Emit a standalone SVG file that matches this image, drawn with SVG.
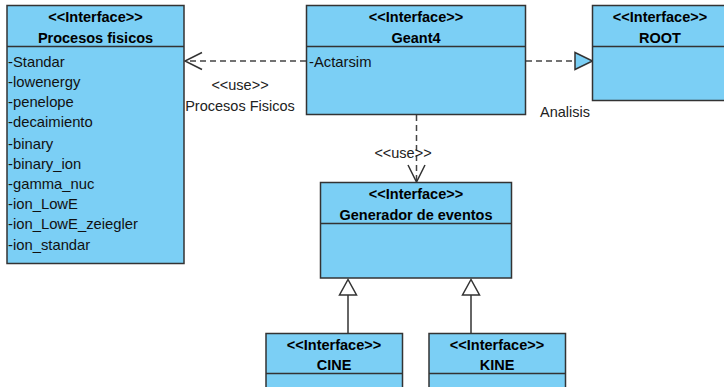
<svg xmlns="http://www.w3.org/2000/svg" width="724" height="387" viewBox="0 0 724 387">
<style>
.box{fill:#7BCFF5;stroke:#333;stroke-width:1.5}
.div{stroke:#333;stroke-width:1.5}
.st{font-family:"Liberation Sans",Arial,sans-serif;font-weight:bold;font-size:14.5px;text-anchor:middle;fill:#000}
.at{font-family:"Liberation Sans",Arial,sans-serif;font-size:14.8px;fill:#111}
.lb{font-family:"Liberation Sans",Arial,sans-serif;font-size:14.5px;fill:#222;text-anchor:middle}
.dash{fill:none;stroke:#444;stroke-width:1.5;stroke-dasharray:6 4}
.solid{fill:none;stroke:#333;stroke-width:1.5}
</style>
<rect width="724" height="387" fill="#fff"/>
<g id="connectors">
<line class="dash" x1="306" y1="61" x2="186" y2="61"/>
<polyline class="solid" points="202,52.5 185,61 202,69.5"/>
<text class="lb" x="240" y="90">&lt;&lt;use&gt;&gt;</text>
<text class="lb" x="240" y="111">Procesos Fisicos</text>
<line class="dash" x1="526" y1="61" x2="575" y2="61"/>
<polygon points="575,52.5 592.5,61 575,69.5" fill="#7BCFF5" stroke="#333" stroke-width="1.5"/>
<text class="lb" x="565" y="117">Analisis</text>
<line class="dash" x1="416.5" y1="115" x2="416.5" y2="181"/>
<polyline class="solid" points="408,165 416.5,182 425,165"/>
<text class="lb" x="403" y="158">&lt;&lt;use&gt;&gt;</text>
<line class="solid" x1="348" y1="295" x2="348" y2="333"/>
<polygon points="348,279.5 339.5,295 356.5,295" fill="#fff" stroke="#333" stroke-width="1.5"/>
<line class="solid" x1="471" y1="295" x2="471" y2="333"/>
<polygon points="471,279.5 462.5,295 479.5,295" fill="#fff" stroke="#333" stroke-width="1.5"/>
</g>
<g id="procesos">
<rect class="box" x="7" y="5.5" width="177" height="258"/>
<line class="div" x1="7" y1="46.5" x2="184" y2="46.5"/>
<text class="st" x="95.5" y="22">&lt;&lt;Interface&gt;&gt;</text>
<text class="st" x="95.5" y="43">Procesos fisicos</text>
<text class="at" x="8" y="66.5">-Standar</text>
<text class="at" x="8" y="86.7">-lowenergy</text>
<text class="at" x="8" y="106.9">-penelope</text>
<text class="at" x="8" y="127.1">-decaimiento</text>
<text class="at" x="8" y="148.5">-binary</text>
<text class="at" x="8" y="168.7">-binary_ion</text>
<text class="at" x="8" y="188.9">-gamma_nuc</text>
<text class="at" x="8" y="209.1">-ion_LowE</text>
<text class="at" x="8" y="229.3">-ion_LowE_zeiegler</text>
<text class="at" x="8" y="249.5">-ion_standar</text>
</g>
<g id="geant4">
<rect class="box" x="306.5" y="5.5" width="219" height="109"/>
<line class="div" x1="306.5" y1="46.5" x2="525.5" y2="46.5"/>
<text class="st" x="416" y="22">&lt;&lt;Interface&gt;&gt;</text>
<text class="st" x="416" y="43">Geant4</text>
<text class="at" x="309" y="66.5">-Actarsim</text>
</g>
<g id="root">
<rect class="box" x="592.5" y="5.5" width="140" height="95"/>
<line class="div" x1="592.5" y1="46.5" x2="732" y2="46.5"/>
<text class="st" x="660" y="22">&lt;&lt;Interface&gt;&gt;</text>
<text class="st" x="660" y="43">ROOT</text>
</g>
<g id="generador">
<rect class="box" x="320.5" y="182.5" width="191" height="95.5"/>
<line class="div" x1="320.5" y1="223.5" x2="511.5" y2="223.5"/>
<text class="st" x="416" y="199">&lt;&lt;Interface&gt;&gt;</text>
<text class="st" x="416" y="220">Generador de eventos</text>
</g>
<g id="cine">
<rect class="box" x="266" y="333.5" width="136.5" height="60"/>
<line class="div" x1="266" y1="373.5" x2="402.5" y2="373.5"/>
<text class="st" x="334" y="350">&lt;&lt;Interface&gt;&gt;</text>
<text class="st" x="334" y="370">CINE</text>
</g>
<g id="kine">
<rect class="box" x="429" y="333.5" width="136.5" height="60"/>
<line class="div" x1="429" y1="373.5" x2="565.5" y2="373.5"/>
<text class="st" x="497" y="350">&lt;&lt;Interface&gt;&gt;</text>
<text class="st" x="497" y="370">KINE</text>
</g>
</svg>
